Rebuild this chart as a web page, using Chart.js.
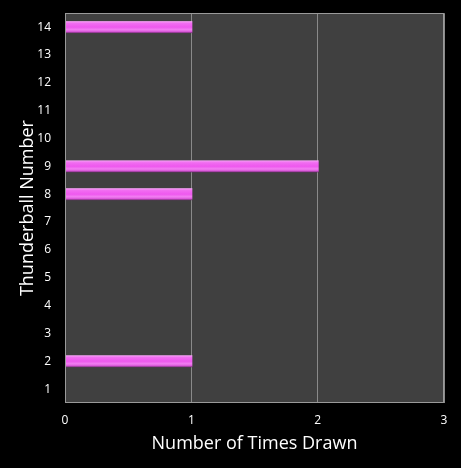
<!DOCTYPE html>
<html><head><meta charset="utf-8">
<script src="https://cdn.jsdelivr.net/npm/chart.js@4.4.1/dist/chart.umd.min.js"></script>
<style>html,body{margin:0;padding:0;background:#000;}#wrap{width:461px;height:468px;}</style>
</head><body><div id="wrap"><canvas id="c" width="461" height="468"></canvas></div>
<script>
const categories = ['1','2','3','4','5','6','7','8','9','10','11','12','13','14'];
const timesDrawn = [0,1,0,0,0,0,0,1,2,0,0,0,0,1];
const xTicks = [0,1,2,3];
const xTitle = 'Number of Times Drawn';
const yTitle = 'Thunderball Number';

const FONT = "'Open Sans', 'Noto Sans', sans-serif";

const bgPlugin = {
  id: 'bg',
  beforeDraw(chart) {
    const c = chart.ctx, a = chart.chartArea;
    c.save();
    c.fillStyle = '#000';
    c.fillRect(0, 0, chart.width, chart.height);
    c.fillStyle = '#404040';
    c.fillRect(a.left, a.top, a.right - a.left, a.bottom - a.top);
    c.restore();
  },
  afterDatasetsDraw(chart) {
    const c = chart.ctx;
    chart.getDatasetMeta(0).data.forEach((el, i) => {
      if (!timesDrawn[i]) return;
      const h = el.height, top = el.y - h / 2;
      const g = c.createLinearGradient(0, top, 0, top + h);
      g.addColorStop(0, '#f4a4f4');
      g.addColorStop(0.2, '#f16cf1');
      g.addColorStop(0.5, '#ee58ee');
      g.addColorStop(0.72, '#f27ff2');
      g.addColorStop(0.88, '#d856d8');
      g.addColorStop(1, '#6a2c6a');
      c.save();
      c.fillStyle = g;
      c.fillRect(el.base, top, el.x - el.base + 1, h);
      c.restore();
    });
  },
  afterDraw(chart) {
    const c = chart.ctx, a = chart.chartArea;
    c.save();
    c.strokeStyle = '#9a9a9a';
    c.lineWidth = 1;
    c.strokeRect(Math.round(a.left) + 0.5, Math.round(a.top) + 0.5, Math.round(a.right - a.left) - 1, Math.round(a.bottom - a.top) - 1);
    c.restore();
  }
};

new Chart(document.getElementById('c'), {
  type: 'bar',
  data: {
    labels: categories,
    datasets: [{
      data: timesDrawn,
      backgroundColor: 'rgba(0,0,0,0)',
      borderWidth: 0,
      barThickness: 12
    }]
  },
  options: {
    indexAxis: 'y',
    responsive: false,
    animation: false,
    devicePixelRatio: 1,
    layout: { padding: { top: 5, right: 17, left: 0, bottom: 0 } },
    plugins: { legend: { display: false }, tooltip: { enabled: false } },
    scales: {
      x: {
        min: 0, max: 3,
        afterBuildTicks(s) { s.ticks = xTicks.map(v => ({ value: v })); },
        afterFit(s) { s.height = 65; },
        grid: { display: true, color: '#8a8a8a', drawTicks: false, lineWidth: 1 },
        border: { display: false },
        ticks: { color: '#ffffff', font: { family: FONT, size: 12 }, padding: 10 },
        title: { display: true, text: xTitle, color: '#ffffff', font: { family: FONT, size: 18 }, padding: { top: 4, bottom: 13 } }
      },
      y: {
        reverse: true,
        afterFit(s) { s.width = 65; },
        grid: { display: false },
        border: { display: false },
        ticks: { color: '#ffffff', font: { family: FONT, size: 12 }, padding: 6, autoSkip: false },
        title: { display: true, text: yTitle, color: '#ffffff', font: { family: FONT, size: 18 }, padding: { top: 17, bottom: 4 } }
      }
    }
  },
  plugins: [bgPlugin]
});
</script></body></html>
